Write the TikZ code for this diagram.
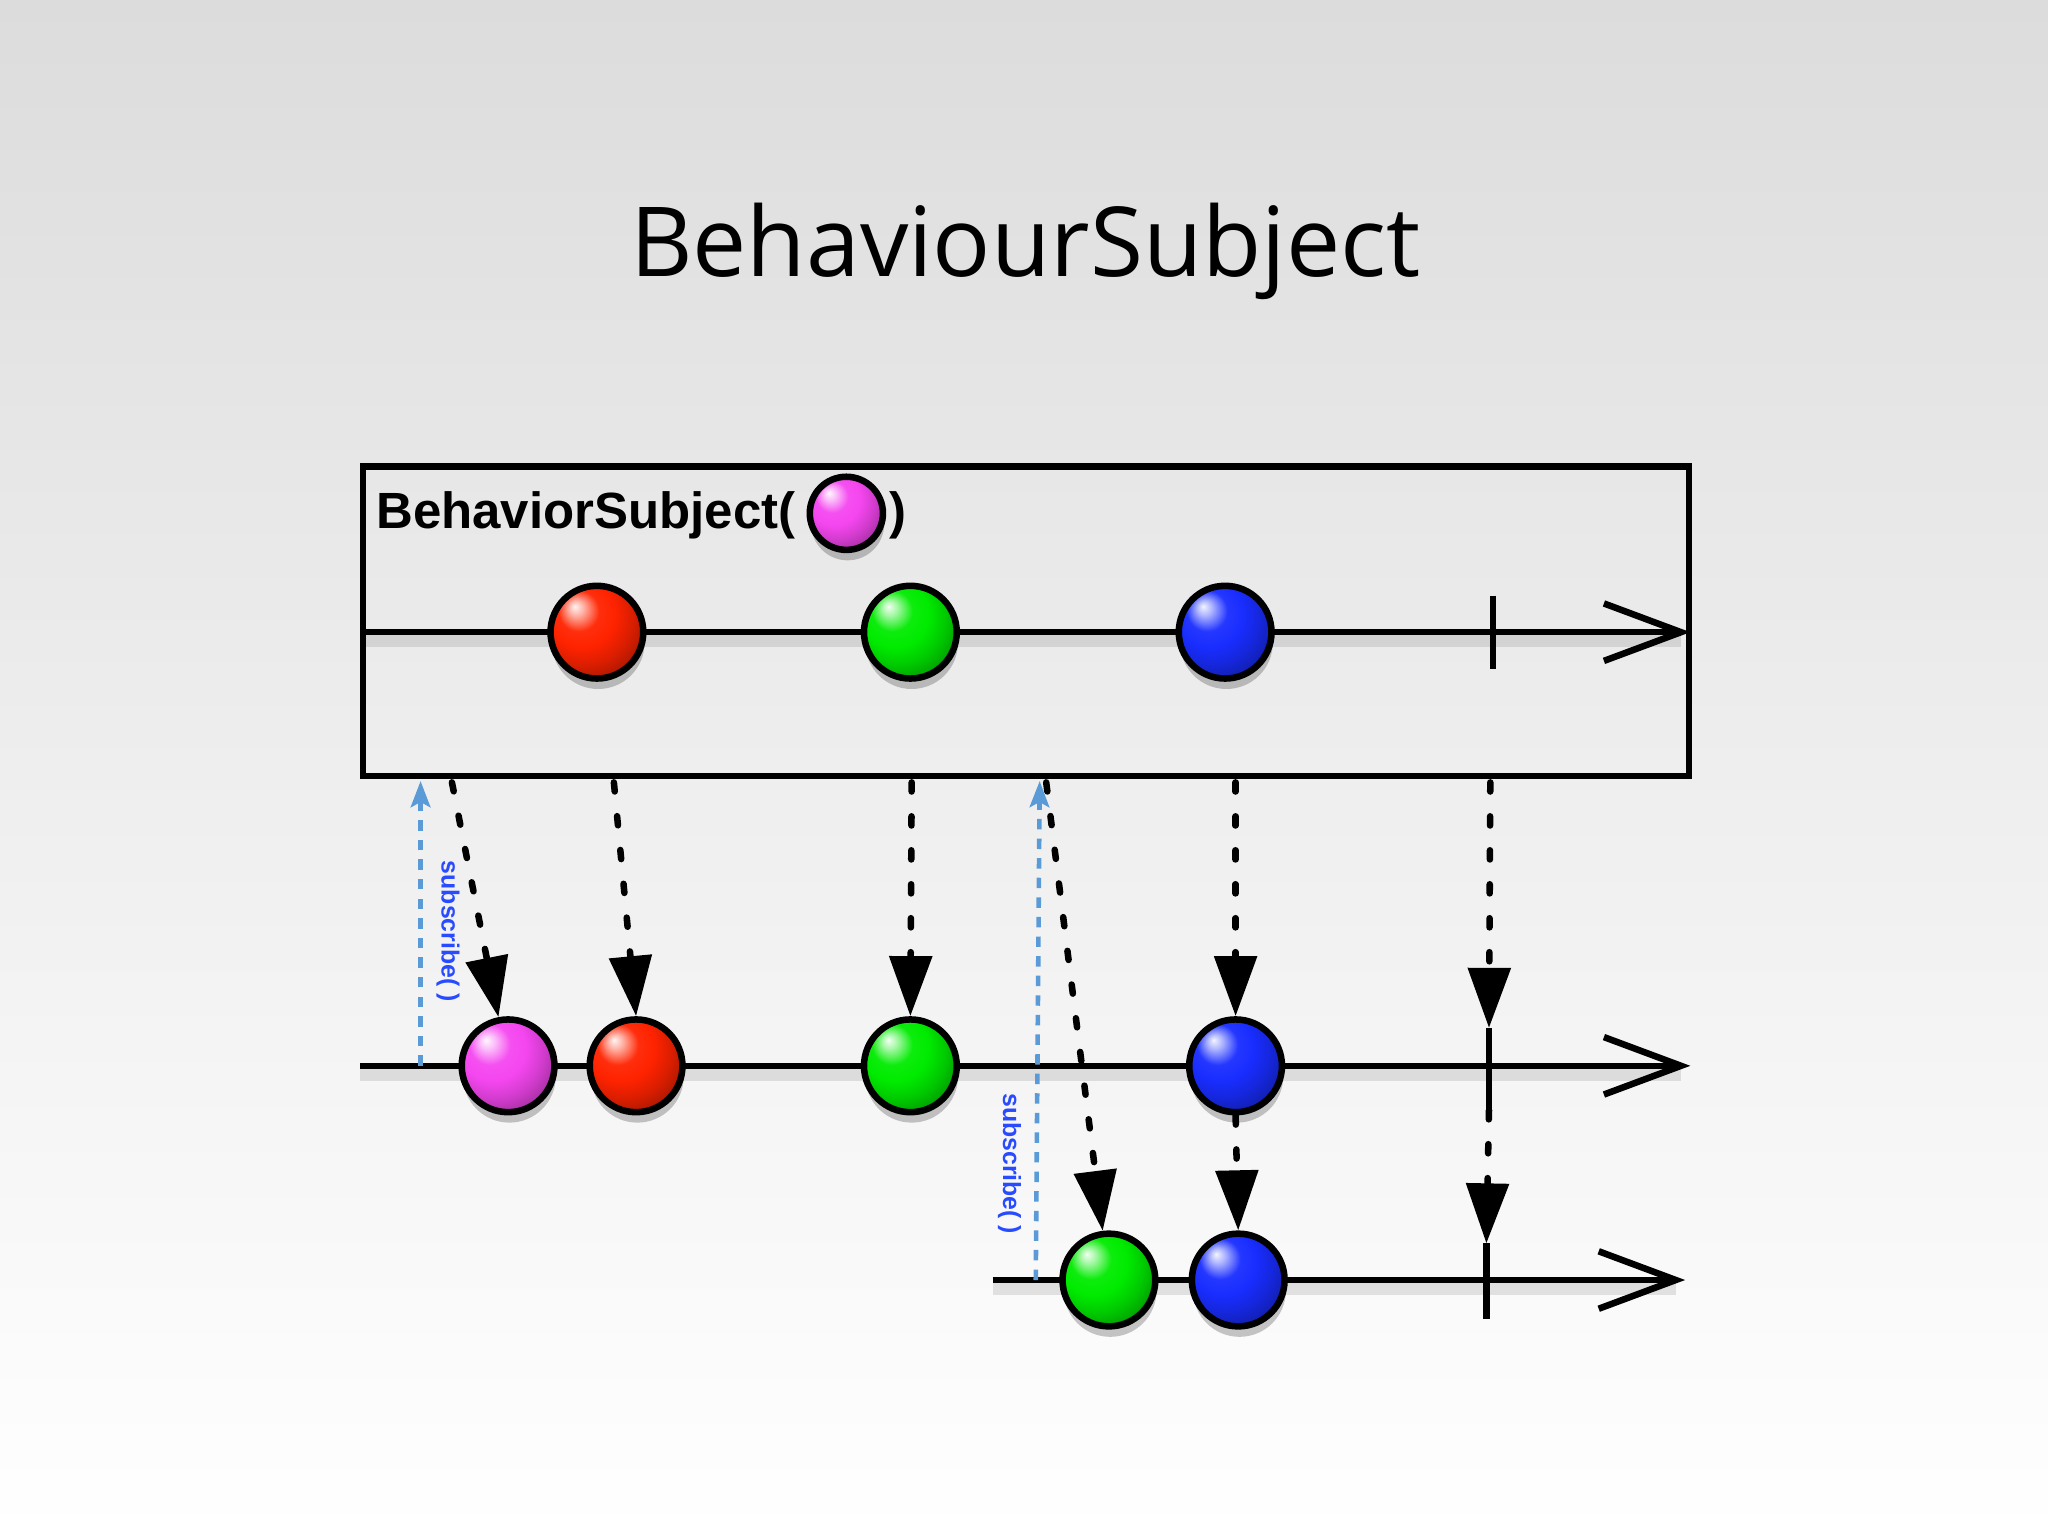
\documentclass[tikz,border=0pt]{standalone}
\usepackage{fontspec}
\setmainfont{Open Sans}
\newfontfamily\lsans{Liberation Sans}
\usetikzlibrary{arrows.meta,shadows}
\definecolor{bgtop}{RGB}{220,220,220}
\definecolor{bgmid}{RGB}{238,238,239}
\definecolor{mred}{RGB}{255,35,0}
\definecolor{mgreen}{RGB}{0,235,0}
\definecolor{mblue}{RGB}{25,45,255}
\definecolor{mmag}{RGB}{245,70,240}
\definecolor{subline}{RGB}{90,155,215}
\definecolor{subtxt}{RGB}{40,75,255}
\colorlet{mcol}{red}
\pgfdeclareradialshading[mcol]{marbleshade}{\pgfpoint{-12bp}{14bp}}{%
  color(0bp)=(mcol!5!white); color(4bp)=(mcol!35!white); color(11bp)=(mcol!95!white);
  color(18bp)=(mcol); color(26bp)=(mcol!85!black); color(34bp)=(mcol!65!black); color(42bp)=(mcol!45!black); color(60bp)=(mcol!35!black)}
\tikzset{
  marble/.style={circle, draw=black, line width=5pt, minimum size=71pt, inner sep=0pt,
    /utils/exec={\colorlet{mcol}{#1}}, shading=marbleshade,
    drop shadow={shadow xshift=1pt, shadow yshift=-8pt, opacity=0.22, fill=black}},
  timeline/.style={line width=5pt},
  lshadow/.style={line width=9pt, draw=black, opacity=0.10, transform canvas={yshift=-7pt}},
  chev/.style={line width=5pt, line join=miter, line cap=butt},
  tickmark/.style={line width=5pt},
  evt/.style={line width=5pt, dash pattern=on 7pt off 19pt, line cap=round,
    -{Triangle[length=46pt,width=32pt]}},
  sub/.style={draw=subline, line width=3.5pt, dash pattern=on 8pt off 7pt,
    -{Stealth[length=20pt,width=15pt,inset=4pt]}},
  sublabel/.style={rotate=-90, text=subtxt, font=\lsans\bfseries\fontsize{19}{20}\selectfont, inner sep=0pt},
}
\begin{document}
\begin{tikzpicture}[x=1pt,y=-1pt]
\useasboundingbox (0,0) rectangle (1568,1176);
\shade[top color=bgtop, bottom color=white, middle color=bgmid] (0,0) rectangle (1568,1176);

% title
\node[font=\fontsize{74}{80}\selectfont, anchor=base, inner sep=0pt] (title) at (785,212) {BehaviourSubject};

% box
\node[draw, line width=5pt, minimum width=1015pt, minimum height=237pt, inner sep=0pt] (box) at (785.5,475.5) {};
\node[font=\lsans\bfseries\fontsize{39}{40}\selectfont, anchor=base west, inner sep=0pt] (lbl) at (288,405) {BehaviorSubject(};
\node[marble=mmag, minimum size=56pt] (m0) at (648,393) {};
\node[font=\lsans\bfseries\fontsize{39}{40}\selectfont, anchor=base west, inner sep=0pt] (rp) at (681,405) {)};

% coordinates
\coordinate (l1s) at (280,484); \coordinate (l1e) at (1287,484);
\coordinate (l2s) at (276,816); \coordinate (l2e) at (1287,816);
\coordinate (l3s) at (760,980); \coordinate (l3e) at (1283,980);
\coordinate (t1a) at (1143,456); \coordinate (t1b) at (1143,512);
\coordinate (t2a) at (1140,787); \coordinate (t2b) at (1140,850);
\coordinate (t3a) at (1138,952); \coordinate (t3b) at (1138,1010);

% line shadows
\draw[lshadow] (l1s) -- (l1e);
\draw[lshadow] (l2s) -- (l2e);
\draw[lshadow] (l3s) -- (l3e);

% timelines
\draw[timeline] (l1s) -- (l1e);
\draw[chev] (l1e) ++(-59,-22) -- (l1e) -- ++(-59,22);
\draw[timeline] (l2s) -- (l2e);
\draw[chev] (l2e) ++(-59,-22) -- (l2e) -- ++(-59,22);
\draw[timeline] (l3s) -- (l3e);
\draw[chev] (l3e) ++(-59,-22) -- (l3e) -- ++(-59,22);

% ticks
\draw[tickmark] (t1a) -- (t1b);
\draw[tickmark] (t2a) -- (t2b);
\draw[tickmark] (t3a) -- (t3b);

% marbles
\node[marble=mred] (r1) at (457,484) {};
\node[marble=mgreen] (g1) at (697,484) {};
\node[marble=mblue] (b1) at (938,484) {};
\node[marble=mmag] (m2) at (389,816) {};
\node[marble=mred] (r2) at (487,816) {};
\node[marble=mgreen] (g2) at (697,816) {};
\node[marble=mblue] (b2) at (946,816) {};
\node[marble=mgreen] (g3) at (849,980) {};
\node[marble=mblue] (b3) at (948,980) {};

% emission arrows
\coordinate (d1) at (346,599);
\coordinate (d2) at (470,599);
\coordinate (d3) at (698,599);
\coordinate (d4) at (946,599);
\coordinate (d5) at (1141,599);
\coordinate (d6) at (801,599);
\draw[evt] (d1) -- (m2);
\draw[evt] (d2) -- (r2.north);
\draw[evt] (d3) -- (g2.north);
\draw[evt] (d4) -- (b2.north);
\draw[evt] (d5) -- (t2a);
\draw[evt] (d6) -- (g3);
\draw[evt] (b2.south) -- (b3.north);
\draw[evt] (t2b) -- (t3a);

% subscribe arrows
\coordinate (sa) at (322,816); \coordinate (sb) at (322,598);
\coordinate (sc) at (793,980); \coordinate (sd) at (796,598);
\draw[sub] (sa) -- (sb);
\draw[sub] (sc) -- (sd);
\node[sublabel] (sl1) at (343,713) {subscribe( )};
\node[sublabel] (sl2) at (773,891) {subscribe( )};
\end{tikzpicture}
\end{document}
